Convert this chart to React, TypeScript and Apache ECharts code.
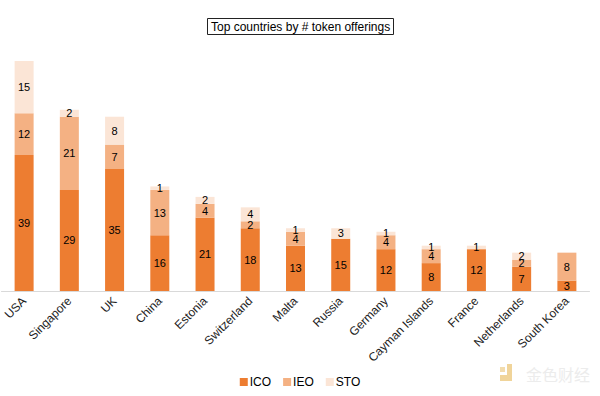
import React, { useEffect, useRef } from "react";
import * as echarts from "echarts";

const categories = ["USA", "Singapore", "UK", "China", "Estonia", "Switzerland", "Malta", "Russia", "Germany", "Cayman Islands", "France", "Netherlands", "South Korea"];
const icoValues = [39, 29, 35, 16, 21, 18, 13, 15, 12, 8, 12, 7, 3];
const ieoValues = [12, 21, 7, 13, 4, 2, 4, 0, 4, 4, 0, 2, 8];
const stoValues = [15, 2, 8, 1, 2, 4, 1, 3, 1, 1, 1, 2, 0];
const seriesNames = ["ICO", "IEO", "STO"];
const colors = ["#ED7D31", "#F4B183", "#FBE5D6"];

const FONT = "Liberation Sans, Arial, sans-serif";

export default function App() {
  const ref = useRef<HTMLDivElement>(null);
  useEffect(() => {
    if (!ref.current) return;
    const chart = echarts.init(ref.current, undefined, { renderer: "svg" });
    const data = [icoValues, ieoValues, stoValues];
    chart.setOption({
      animation: false,
      backgroundColor: "#ffffff",
      textStyle: { fontFamily: FONT },
      title: {
        text: "Top countries by # token offerings",
        left: 207,
        top: 18,
        padding: [3, 4, 2, 4],
        borderColor: "#222",
        borderWidth: 1,
        textStyle: { fontSize: 12, fontWeight: "normal", color: "#000", fontFamily: FONT },
      },
      legend: {
        data: seriesNames,
        bottom: 3,
        left: "center",
        itemWidth: 8,
        itemHeight: 8,
        itemGap: 12,
        icon: "rect",
        textStyle: { fontSize: 12, color: "#000", fontFamily: FONT, padding: [0, 0, 0, -3] },
      },
      grid: { left: 1.5, right: 10.5, top: 47, bottom: 105, containLabel: false },
      xAxis: {
        type: "category",
        data: categories,
        axisTick: { show: false },
        axisLine: { show: true, lineStyle: { color: "#d9d9d9", width: 1 } },
        axisLabel: { rotate: 45, fontSize: 12, color: "#222", margin: 8, fontFamily: FONT, interval: 0 },
      },
      yAxis: {
        type: "value",
        min: 0,
        max: 70,
        show: false,
        splitLine: { show: false },
      },
      series: data.map((vals, i) => ({
        name: seriesNames[i],
        type: "bar",
        stack: "total",
        barWidth: 19,
        data: vals,
        itemStyle: { color: colors[i] },
        label: {
          show: true,
          position: "inside",
          color: "#000",
          fontSize: 11,
          fontFamily: FONT,
          formatter: (p: any) => (p.value ? String(p.value) : ""),
        },
      })),
      graphic: [
        { type: "rect", shape: { x: 500, y: 367, width: 5, height: 5 }, style: { fill: "#f2dcae" } },
        { type: "rect", shape: { x: 507, y: 364, width: 5, height: 17 }, style: { fill: "#f0d49a" } },
        { type: "rect", shape: { x: 500, y: 375, width: 12, height: 6 }, style: { fill: "#f0d49a" } },
        {
          type: "text",
          x: 526,
          y: 366,
          style: { text: "金色财经", fill: "#ececec", fontSize: 16, fontFamily: "Noto Sans CJK SC" },
        },
      ],
    });
    return () => chart.dispose();
  }, []);
  return <div ref={ref} style={{ width: 600, height: 396, position: "absolute", left: 0, top: 0 }} />;
}
